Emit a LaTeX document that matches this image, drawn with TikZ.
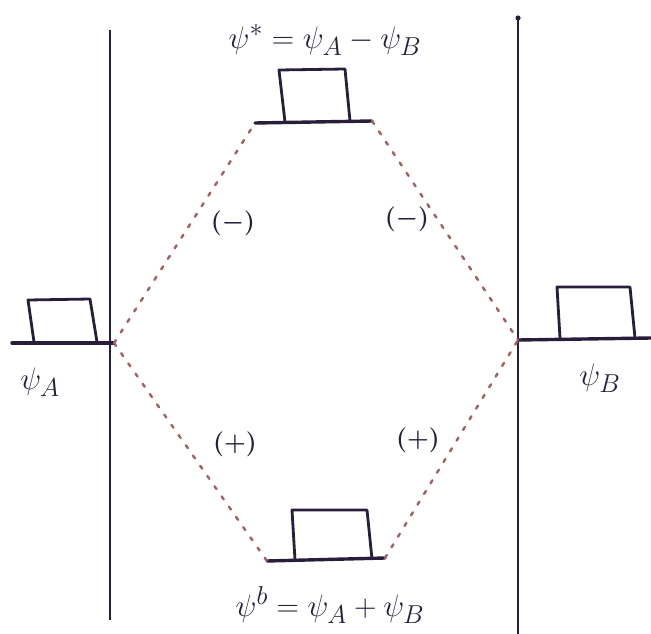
\documentclass[tikz,border=0pt]{standalone}
\usepackage{graphicx}
\usetikzlibrary{calc}
\definecolor{ink}{RGB}{40,30,60}
\definecolor{dotred}{RGB}{165,95,95}
\begin{document}
\begin{tikzpicture}[x=1pt,y=-1pt,
  level/.style={draw=ink,line width=3.4pt,line cap=round},
  boxline/.style={draw=ink,line width=2.8pt,line join=round},
  axis/.style={draw=ink,line width=2.2pt},
  link/.style={draw=dotred,line width=2.4pt,dash pattern=on 3.5pt off 9pt,line cap=round},
  lab/.style={text=ink,font=\Huge,inner sep=0pt},
  sign/.style={text=ink,font=\Huge\boldmath,inner sep=0pt}]
\useasboundingbox (0,0) rectangle (651,634);
% vertical axes
\coordinate (LT) at (110,30); \coordinate (LB) at (110,620);
\coordinate (RT) at (518,18); \coordinate (RB) at (518,634);
\draw[axis] (LT) -- (LB);
\draw[axis] (RT) -- (RB);
\fill[ink] (RT) circle (2.6pt);
% left level
\coordinate (La) at (12,343); \coordinate (Lb) at (114,343);
\draw[level] (La) -- (Lb);
\draw[boxline] (34,342) -- (28,300) -- (90,299) -- (97,342);
% right level
\coordinate (Ra) at (518,340); \coordinate (Rb) at (651,338);
\draw[level] (Ra) -- (Rb);
\draw[boxline] (560,338) -- (557,287) -- (630,287) -- (635,338);
% top level
\coordinate (Ta) at (255,123); \coordinate (Tb) at (372,121);
\draw[level] (Ta) -- (Tb);
\draw[boxline] (285,122) -- (279,70) -- (345,69) -- (350,121);
% bottom level
\coordinate (Ba) at (267,561); \coordinate (Bb) at (385,558);
\draw[level] (Ba) -- (Bb);
\draw[boxline] (295,560) -- (292,510) -- (367,510) -- (372,559);
% dotted connectors
\draw[link] (Lb) -- (Ta);
\draw[link] (Tb) -- (Ra);
\draw[link] (Lb) -- (Ba);
\draw[link] (Bb) -- (Ra);
% labels
\node[lab] (top) at (325,40) {\scalebox{1.25}{$\psi^{*} = \psi_{A} - \psi_{B}$}};
\node[lab] (bot) at (330,605) {\scalebox{1.25}{$\psi^{b} = \psi_{A} + \psi_{B}$}};
\node[lab] (pa) at (40,382) {\scalebox{1.25}{$\psi_{A}$}};
\node[lab] (pb) at (600,378) {\scalebox{1.25}{$\psi_{B}$}};
\node[sign] (m1) at (233,223) {$(-)$};
\node[sign] (m2) at (407,219) {$(-)$};
\node[sign] (p1) at (235,444) {$(+)$};
\node[sign] (p2) at (418,440) {$(+)$};
\end{tikzpicture}
\end{document}
